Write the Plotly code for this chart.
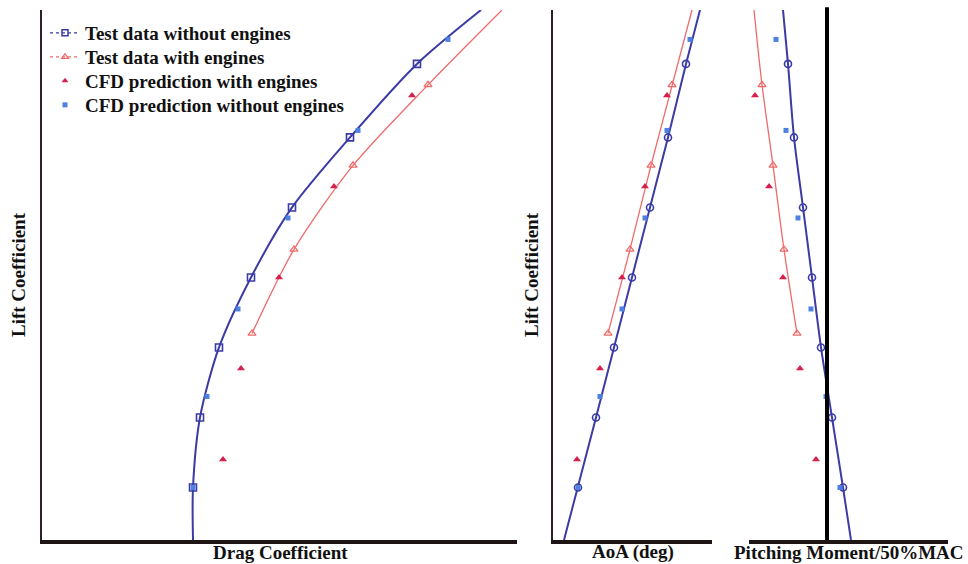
import plotly.graph_objects as go

# ---------------- data (arbitrary units, no ticks shown) ----------------
CL_TEST = [0.15, 0.35, 0.55, 0.75, 0.95, 1.15, 1.36]          # test data without engines
CL_CFD_NO = [0.15, 0.41, 0.66, 0.92, 1.17, 1.43]              # CFD without engines
CL_TEST_ENG = [0.59, 0.83, 1.07, 1.30]                         # test data with engines
CL_CFD_ENG = [0.23, 0.49, 0.75, 1.01, 1.27]                    # CFD with engines
CL_MAX = 1.514

# drag polar
CD_TEST = [0.0604, 0.0632, 0.0708, 0.0836, 0.1000, 0.1232, 0.1500]
CD_CFD_NO = [0.0604, 0.0660, 0.0784, 0.0984, 0.1264, 0.1624]
CD_TEST_ENG = [0.0840, 0.1008, 0.1244, 0.1544]
CD_CFD_ENG = [0.0724, 0.0796, 0.0948, 0.1168, 0.1480]
CD_FIT_NO_ENDS = [0.0604, 0.1756]      # fitted curve at CL=0 and at the top
CD_FIT_ENG_TOP = 0.184

# lift curve
AOA_TEST = [1.5, 3.3, 5.1, 6.9, 8.7, 10.5, 12.3]
AOA_CFD_NO = [1.5, 3.7, 5.9, 8.2, 10.4, 12.7]
AOA_TEST_ENG = [4.5, 6.7, 8.8, 10.9]
AOA_CFD_ENG = [1.4, 3.7, 5.9, 8.2, 10.4]
AOA_FIT_NO_ENDS = [0.1, 13.7]
AOA_FIT_ENG_TOP = 12.9

# pitching moment
CM_TEST = [0.016, 0.005, -0.006, -0.015, -0.024, -0.033, -0.039]
CM_CFD_NO = [0.013, -0.001, -0.016, -0.029, -0.041, -0.051]
CM_TEST_ENG = [-0.030, -0.043, -0.054, -0.065]
CM_CFD_ENG = [-0.011, -0.027, -0.044, -0.058, -0.072]
CM_FIT_NO_ENDS = [0.024, -0.044]
CM_FIT_ENG_TOP = -0.073

LEGEND_NAMES = ["Test data without engines", "Test data with engines",
                "CFD prediction with engines", "CFD prediction without engines"]

# ---------------- styles ----------------
BLUE_LINE = "#3b3ba6"
RED_LINE = "#f06a6a"
CFD_RED = "#d81f4c"
CFD_BLUE = "#4d80e0"
FONT = "Liberation Serif"
AXCOL = "#1e1414"

fig = go.Figure()


def add_panel(xa, ya, x_test, x_cfd_no, x_test_eng, x_cfd_eng,
              fit_no, fit_eng_top, test_symbol, line_shape):
    fig.add_trace(go.Scatter(
        x=[fit_no[0]] + x_test + [fit_no[1]], y=[0.0] + CL_TEST + [CL_MAX],
        mode="lines", line=dict(color=BLUE_LINE, width=2, shape=line_shape, smoothing=0.8),
        xaxis=xa, yaxis=ya, showlegend=False, hoverinfo="skip"))
    fig.add_trace(go.Scatter(
        x=x_test_eng + [fit_eng_top], y=CL_TEST_ENG + [CL_MAX],
        mode="lines", line=dict(color=RED_LINE, width=1.3, shape=line_shape, smoothing=0.8),
        xaxis=xa, yaxis=ya, showlegend=False, hoverinfo="skip"))
    fig.add_trace(go.Scatter(
        x=x_test, y=CL_TEST, mode="markers",
        marker=dict(symbol=test_symbol, size=7, color=BLUE_LINE, line=dict(width=1.6, color=BLUE_LINE)),
        xaxis=xa, yaxis=ya, showlegend=False))
    fig.add_trace(go.Scatter(
        x=x_test_eng, y=CL_TEST_ENG, mode="markers",
        marker=dict(symbol="triangle-up-open", size=7, color=RED_LINE, line=dict(width=1.3, color=RED_LINE)),
        xaxis=xa, yaxis=ya, showlegend=False))
    fig.add_trace(go.Scatter(
        x=x_cfd_eng, y=CL_CFD_ENG, mode="markers",
        marker=dict(symbol="triangle-up", size=7, color=CFD_RED),
        xaxis=xa, yaxis=ya, showlegend=False))
    fig.add_trace(go.Scatter(
        x=x_cfd_no, y=CL_CFD_NO, mode="markers",
        marker=dict(symbol="square", size=5, color=CFD_BLUE),
        xaxis=xa, yaxis=ya, showlegend=False))


add_panel("x", "y", CD_TEST, CD_CFD_NO, CD_TEST_ENG, CD_CFD_ENG,
          CD_FIT_NO_ENDS, CD_FIT_ENG_TOP, "square-open", "spline")
add_panel("x2", "y2", AOA_TEST, AOA_CFD_NO, AOA_TEST_ENG, AOA_CFD_ENG,
          AOA_FIT_NO_ENDS, AOA_FIT_ENG_TOP, "circle-open", "linear")
add_panel("x3", "y3", CM_TEST, CM_CFD_NO, CM_TEST_ENG, CM_CFD_ENG,
          CM_FIT_NO_ENDS, CM_FIT_ENG_TOP, "circle-open", "spline")

# legend-only entries, one legend each so the rows can be spaced like the reference
fig.add_trace(go.Scatter(x=[None], y=[None], name=LEGEND_NAMES[0], mode="lines+markers", legend="legend",
                         line=dict(color=BLUE_LINE, width=1.2, dash="dot"),
                         marker=dict(symbol="square-open", size=6, color=BLUE_LINE, line=dict(width=1.5))))
fig.add_trace(go.Scatter(x=[None], y=[None], name=LEGEND_NAMES[1], mode="lines+markers", legend="legend2",
                         line=dict(color=RED_LINE, width=1.2, dash="dot"),
                         marker=dict(symbol="triangle-up-open", size=6, color=RED_LINE, line=dict(width=1.2))))
fig.add_trace(go.Scatter(x=[None], y=[None], name=LEGEND_NAMES[2], mode="markers", legend="legend3",
                         marker=dict(symbol="triangle-up", size=6, color=CFD_RED)))
fig.add_trace(go.Scatter(x=[None], y=[None], name=LEGEND_NAMES[3], mode="markers", legend="legend4",
                         marker=dict(symbol="square", size=5, color=CFD_BLUE)))

W, H = 968, 564
ydom = [1 - 540 / H, 1 - 10 / H]
common = dict(showgrid=False, zeroline=False, showticklabels=False, ticks="")
leg_font = dict(family=FONT, size=19, color="#111", weight="bold")


def leg(row_y):
    return dict(x=45 / W, y=1 - row_y / H, xanchor="left", yanchor="middle",
                bgcolor="rgba(0,0,0,0)", font=leg_font, itemwidth=30)


fig.update_layout(
    width=W, height=H, margin=dict(l=0, r=0, t=0, b=0),
    paper_bgcolor="white", plot_bgcolor="white",
    font=dict(family=FONT, size=19, color="#111", weight="bold"),
    showlegend=True,
    legend=leg(33), legend2=leg(57), legend3=leg(81), legend4=leg(105),
    xaxis=dict(domain=[42 / W, 517 / W], range=[0, 0.19], anchor="y",
               showline=True, linewidth=4, linecolor=AXCOL, **common),
    yaxis=dict(domain=ydom, range=[0, CL_MAX], anchor="x",
               showline=True, linewidth=2, linecolor="#2a1f2a", **common),
    xaxis2=dict(domain=[553 / W, 712 / W], range=[-1.0, 14.9], anchor="y2",
                showline=True, linewidth=4, linecolor=AXCOL, **common),
    yaxis2=dict(domain=ydom, range=[0, CL_MAX], anchor="x2",
                showline=True, linewidth=2, linecolor="#2a1f2a", **common),
    xaxis3=dict(domain=[749 / W, 948 / W], range=[-0.078, 0.121], anchor="y3",
                showline=True, linewidth=4, linecolor=AXCOL, **common),
    yaxis3=dict(domain=ydom, range=[0, CL_MAX], anchor="x3", showline=False, **common),
)

# zero pitching-moment line
fig.add_shape(type="line", xref="x3", yref="y3 domain", x0=0, x1=0, y0=0, y1=1.005,
              line=dict(color="black", width=4))

for txt, x, y, ang in [("Lift Coefficient", 18, 275, -90),
                       ("Lift Coefficient", 531, 275, -90),
                       ("Drag Coefficient", 280, 552, 0),
                       ("AoA (deg)", 633, 552, 0),
                       ("Pitching Moment/50%MAC", 849, 552, 0)]:
    fig.add_annotation(text=txt, x=x / W, y=1 - y / H, xref="paper", yref="paper",
                       showarrow=False, textangle=ang, font=leg_font,
                       xanchor="center", yanchor="middle")

fig.write_html("out.html", config={"displayModeBar": False},
               post_script="document.body.style.margin='0';document.body.style.overflow='hidden';")
